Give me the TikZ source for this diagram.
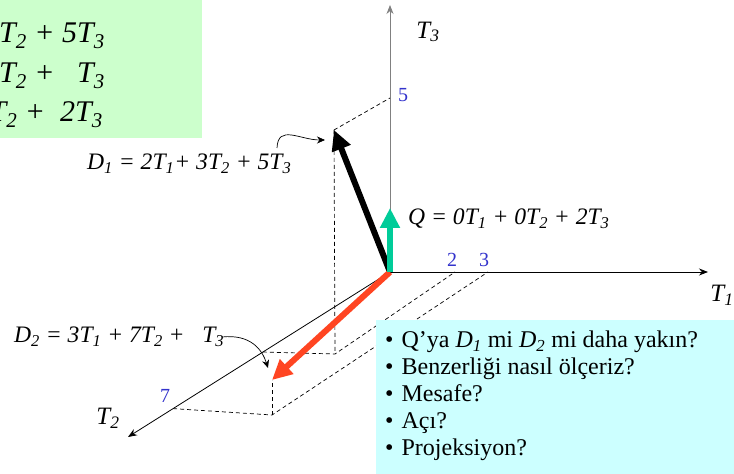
\documentclass[tikz,border=0pt]{standalone}
\usepackage{fontspec}
\setmainfont{Liberation Serif}
\usetikzlibrary{arrows.meta,positioning,calc}
\definecolor{qgreen}{RGB}{0,204,153}
\definecolor{dred}{RGB}{255,69,34}
\definecolor{tickblue}{RGB}{51,51,204}
\definecolor{boxgreen}{RGB}{204,255,204}
\definecolor{boxcyan}{RGB}{204,255,255}
\newcommand{\ix}[1]{\textsubscript{#1}}
\tikzset{
  axisln/.style={-{Stealth[length=9pt,width=7pt]}, line width=0.8pt},
  vecarr/.style={line width=6pt, -{Triangle[length=20pt,width=19pt]}},
  projln/.style={dash pattern=on 4pt off 3pt, line width=0.7pt},
  ticklbl/.style={text=tickblue, font=\fontsize{20}{22}\selectfont, inner sep=0pt},
  axislbl/.style={font=\fontsize{25}{28}\selectfont\itshape, inner sep=0pt},
  eqlbl/.style={font=\fontsize{23.6}{26}\selectfont\itshape, inner sep=0pt, anchor=base west},
  bigeq/.style={font=\fontsize{30}{36}\selectfont\itshape, inner sep=0pt, anchor=base east},
  pointer/.style={-{Stealth[length=8pt,width=7pt]}, line width=0.7pt},
  bullettxt/.style={font=\fontsize{24}{27}\selectfont, inner sep=0pt, anchor=base west},
}

\begin{document}
\begin{tikzpicture}[x=1pt,y=1pt]
  \useasboundingbox (0,0) rectangle (734,474);
  \clip (0,0) rectangle (734,474);

  % equations box, cut at the left edge
  \fill[boxgreen] (0,336) rectangle (202,474);
  \node[bigeq] (eqa) at (105,431) {D\ix{1} = 2T\ix{1} + 3T\ix{2} + 5T\ix{3}};
  \node[bigeq] (eqb) at (105,391) {D\ix{2} = 3T\ix{1} + 7T\ix{2} + \phantom{5}T\ix{3}};
  \node[bigeq] (eqc) at (103,352) {Q = 0T\ix{1} + 0T\ix{2} +\hspace{15pt}2T\ix{3}};

  % axes
  \coordinate (O) at (390,202);
  \coordinate (T1e) at (708,202);
  \coordinate (T3e) at (390,469);
  \coordinate (T2e) at (128,37);
  \draw[axisln] (O) -- (T1e);
  \draw[axisln, black!50] (O) -- (T3e);
  \draw[axisln] (O) -- (T2e);
  \node[axislbl] (t1lbl) at (722,179) {T\ix{1}};
  \node[axislbl] (t2lbl) at (108,56) {T\ix{2}};
  \node[axislbl] (t3lbl) at (428,442) {T\ix{3}};

  % ticks
  \coordinate (t1a) at (455,202);
  \coordinate (t1b) at (488,202);
  \coordinate (t3a) at (390,376);
  \coordinate (t2a) at ($(O)!0.485!(T2e)$);
  \coordinate (t2b) at ($(O)!0.828!(T2e)$);
  \node[ticklbl] (n2) at (452,214) {2};
  \node[ticklbl] (n3) at (484,214) {3};
  \node[ticklbl] (n5) at (403,379) {5};
  \node[ticklbl] (n7) at (165,78) {7};

  % projections
  \coordinate (d1) at (334,344);
  \coordinate (c1) at (335,120);
  \coordinate (d2) at (272,94);
  \coordinate (c2) at (272,59);
  \draw[projln] (d1) -- (t3a);
  \draw[projln] (d1) -- (c1);
  \draw[projln] (t2a) -- (c1) -- (t1a);
  \draw[projln] (t2b) -- (c2) -- (t1b);
  \draw[projln] (c2) -- (d2);

  % vectors
  \draw[vecarr, black] (O) -- (d1);
  \draw[vecarr, dred] (O) -- (d2);
  \coordinate (q) at (390,266);
  \draw[vecarr, qgreen] (O) -- (q);

  % labels
  \node[eqlbl] (d1lbl) at (87,304) {D\ix{1} = 2T\ix{1}+ 3T\ix{2} + 5T\ix{3}};
  \node[eqlbl] (d2lbl) at (14,131) {D\ix{2} = 3T\ix{1} + 7T\ix{2} + \phantom{1}T\ix{3}};
  \node[eqlbl] (qlbl) at (408,249) {Q = 0T\ix{1} + 0T\ix{2} + 2T\ix{3}};
  \coordinate (p1) at (277,326);
  \coordinate (p1e) at (325,334);
  \coordinate (p2) at (222,137);
  \coordinate (p2e) at (268,106);
  \draw[pointer] (p1) .. controls (278,350) and (300,334) .. (p1e);
  \draw[pointer] (p2) .. controls (250,140) and (262,125) .. (p2e);

  % questions
  \fill[boxcyan] (376,0) rectangle (734,154);
  \foreach \txt [count=\i] in {Q’ya \textit{D\ix{1}} mi \textit{D\ix{2}} mi daha yakın?,
      Benzerliği nasıl ölçeriz?, Mesafe?, Açı?, Projeksiyon?}
    \node[bullettxt] (q\i) at (385,153-27*\i) {\textbullet\hspace{8pt}\txt};
\end{tikzpicture}
\end{document}
